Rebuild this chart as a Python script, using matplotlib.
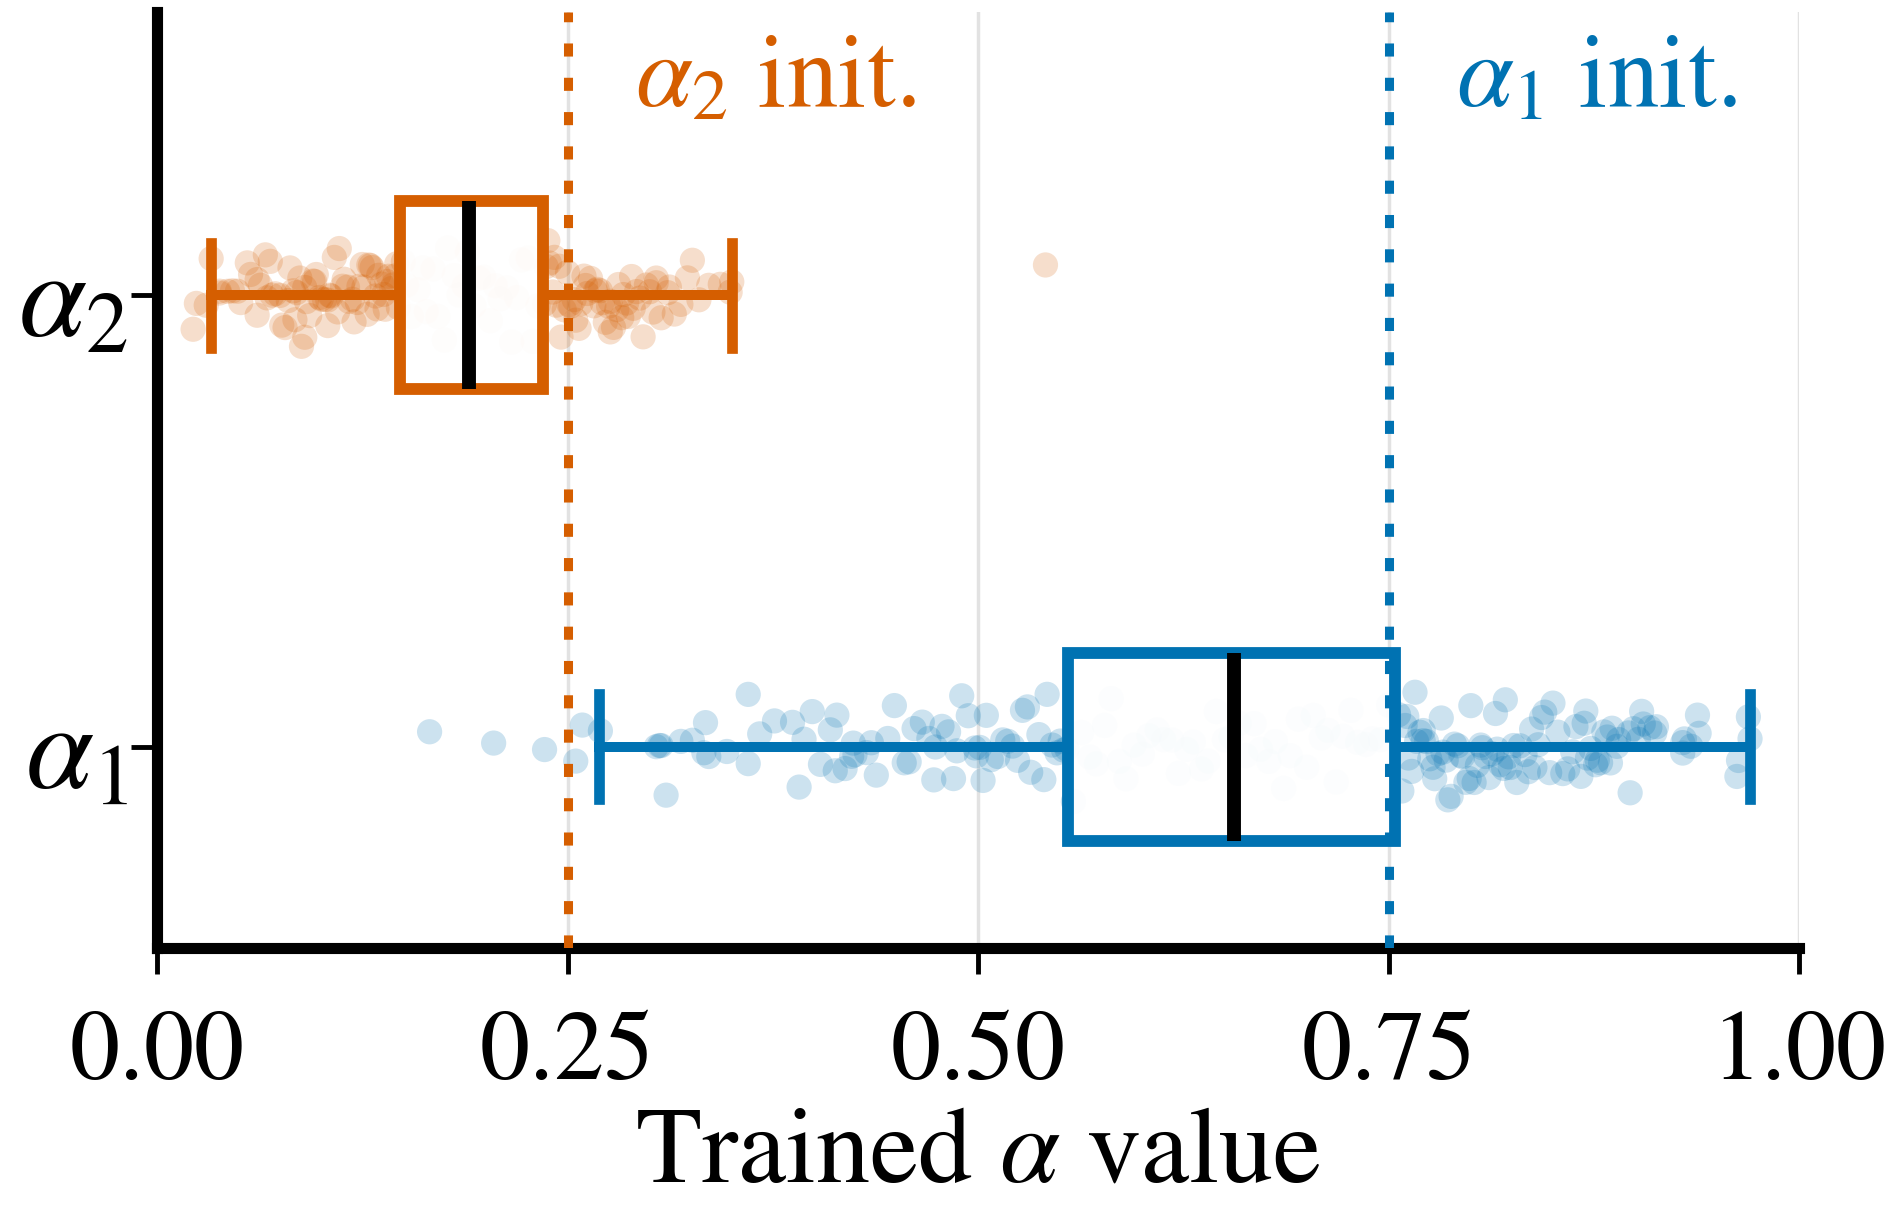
import math
import matplotlib
matplotlib.use('Agg')
import matplotlib.pyplot as plt
from statistics import NormalDist

# trained alpha values (alpha_2 = orange, alpha_1 = blue)
alpha2_vals = [
    0.022, 0.024, 0.030, 0.033, 0.038, 0.038, 0.043, 0.046, 0.049, 0.051,
    0.055, 0.057, 0.061, 0.061, 0.063, 0.066, 0.067, 0.069, 0.070, 0.072,
    0.075, 0.076, 0.078, 0.080, 0.081, 0.083, 0.084, 0.085, 0.087, 0.088,
    0.090, 0.090, 0.091, 0.093, 0.095, 0.096, 0.097, 0.099, 0.100, 0.102,
    0.104, 0.104, 0.105, 0.106, 0.108, 0.110, 0.111, 0.113, 0.114, 0.116,
    0.117, 0.119, 0.120, 0.122, 0.123, 0.125, 0.126, 0.128, 0.129, 0.130,
    0.131, 0.133, 0.134, 0.135, 0.137, 0.138, 0.139, 0.140, 0.141, 0.143,
    0.144, 0.145, 0.146, 0.147,
    0.150, 0.152, 0.155, 0.159, 0.162, 0.164, 0.168, 0.171, 0.175, 0.177,
    0.181, 0.184, 0.187, 0.189, 0.193, 0.196, 0.199, 0.203, 0.206, 0.209,
    0.213, 0.216, 0.219, 0.222, 0.226, 0.229, 0.232,
    0.236, 0.237, 0.238, 0.239, 0.241, 0.242, 0.243, 0.245, 0.246, 0.248,
    0.250, 0.251, 0.252, 0.254, 0.255, 0.257, 0.258, 0.260, 0.261, 0.262,
    0.264, 0.266, 0.267, 0.268, 0.270, 0.271, 0.273, 0.275, 0.276, 0.276,
    0.278, 0.280, 0.281, 0.283, 0.284, 0.286, 0.287, 0.289, 0.290, 0.292,
    0.294, 0.296, 0.298, 0.300, 0.302, 0.304, 0.304, 0.307, 0.311, 0.312,
    0.315, 0.319, 0.323, 0.326, 0.330, 0.336, 0.343, 0.349, 0.350, 0.541,
]
alpha1_vals = [
    0.166, 0.205, 0.236, 0.255, 0.259, 0.270, 0.304, 0.306, 0.307, 0.310,
    0.319, 0.326, 0.333, 0.334, 0.336, 0.347, 0.360, 0.360, 0.367, 0.376,
    0.387, 0.391, 0.394, 0.399, 0.404, 0.410, 0.413, 0.414, 0.419, 0.423,
    0.424, 0.425, 0.432, 0.435, 0.438, 0.445, 0.449, 0.455, 0.458, 0.461,
    0.466, 0.470, 0.473, 0.474, 0.478, 0.482, 0.485, 0.487, 0.490, 0.494,
    0.498, 0.499, 0.501, 0.503, 0.505, 0.508, 0.512, 0.515, 0.518, 0.521,
    0.524, 0.527, 0.530, 0.532, 0.537, 0.540, 0.542, 0.545, 0.548, 0.550,
    0.552, 0.554,
    0.558, 0.563, 0.568, 0.572, 0.577, 0.581, 0.586, 0.590, 0.595, 0.600,
    0.604, 0.609, 0.613, 0.618, 0.622, 0.627, 0.631, 0.636, 0.640, 0.645,
    0.650, 0.654, 0.659, 0.663, 0.668, 0.672, 0.677, 0.681, 0.686, 0.690,
    0.695, 0.700, 0.704, 0.709, 0.713, 0.718, 0.722, 0.727, 0.731, 0.736,
    0.740, 0.745, 0.750,
    0.756, 0.758, 0.760, 0.761, 0.762, 0.764, 0.766, 0.767, 0.769, 0.771,
    0.771, 0.773, 0.775, 0.777, 0.778, 0.780, 0.782, 0.783, 0.785, 0.786,
    0.788, 0.790, 0.792, 0.794, 0.795, 0.797, 0.799, 0.800, 0.802, 0.804,
    0.806, 0.807, 0.809, 0.811, 0.813, 0.815, 0.816, 0.818, 0.820, 0.821,
    0.823, 0.824, 0.826, 0.828, 0.830, 0.833, 0.835, 0.837, 0.839, 0.841,
    0.843, 0.845, 0.848, 0.850, 0.853, 0.856, 0.859, 0.862, 0.864, 0.867,
    0.869, 0.870, 0.871, 0.873, 0.876, 0.877, 0.879, 0.881, 0.883, 0.885,
    0.886, 0.889, 0.890, 0.896, 0.897, 0.899, 0.902, 0.904, 0.905, 0.909,
    0.912, 0.913, 0.929, 0.929, 0.930, 0.934, 0.938, 0.939, 0.962, 0.963,
    0.969, 0.970,
]

# box summary: (q1, median, q3, lower whisker, upper whisker)
alpha1_box = (0.555, 0.656, 0.754, 0.269, 0.970)
alpha2_box = (0.148, 0.190, 0.235, 0.033, 0.350)

categories = [r'$\alpha_1$', r'$\alpha_2$']
init_values = [0.75, 0.25]
init_labels = [r'$\alpha_1$ init.', r'$\alpha_2$ init.']
xticks = [0.0, 0.25, 0.5, 0.75, 1.0]
colors = ['#0072B2', '#D55E00']

plt.rc('font', family=['STIXGeneral', 'Liberation Serif'], size=72)
plt.rc('mathtext', fontset='stix')


def jitter(n, seed, sd=0.052, lim=0.135):
    # deterministic hash-based vertical spread, roughly normal
    nd = NormalDist()
    out = []
    for k in range(n):
        h = math.sin((k + 1) * 12.9898 + seed * 78.233) * 43758.5453
        u = min(max(h - math.floor(h), 0.01), 0.99)
        out.append(max(-lim, min(lim, sd * nd.inv_cdf(u))))
    return out


fig = plt.figure(figsize=(18.98, 12.09), dpi=100)
ax = fig.add_axes([0.0827, 0.216, 0.8653, 0.774])

for pos, vals, col in [(0, alpha1_vals, colors[0]), (1, alpha2_vals, colors[1])]:
    jy = jitter(len(vals), seed=pos + 1)
    ax.scatter(vals, [pos + j for j in jy], s=330, color=col, alpha=0.2,
               edgecolors='none', zorder=2)

stats = []
for name, b in zip(categories, [alpha1_box, alpha2_box]):
    stats.append(dict(label=name, q1=b[0], med=b[1], q3=b[2],
                      whislo=b[3], whishi=b[4], fliers=[]))

bp = ax.bxp(stats, positions=[0, 1], widths=0.417, capwidths=0.233,
            orientation='horizontal', patch_artist=True, showfliers=False,
            medianprops=dict(color='k', linewidth=10, zorder=4),
            boxprops=dict(linewidth=8.5, zorder=3),
            whiskerprops=dict(linewidth=7.2, zorder=3),
            capprops=dict(linewidth=7.7, zorder=3))
for i, col in enumerate(colors):
    bp['boxes'][i].set_facecolor((1, 1, 1, 0.95))
    bp['boxes'][i].set_edgecolor(col)
    for art in bp['whiskers'][2*i:2*i+2] + bp['caps'][2*i:2*i+2]:
        art.set_color(col)

for xv, lab, col in zip(init_values, init_labels, colors):
    ax.axvline(xv, color=col, linewidth=6.5, linestyle=(0, (1.45, 2.35)),
               zorder=5)
    ax.text(xv + 0.041, 1.418, lab, color=col, fontsize=74,
            va='baseline', ha='left')

ax.set_xlim(0, 1)
ax.set_ylim(-0.445, 1.627)
ax.set_xticks(xticks)
ax.set_xticklabels(['%.2f' % t for t in xticks])
ax.set_yticks([0, 1])
ax.set_yticklabels(categories, fontsize=88)
ax.set_xlabel(r'Trained $\alpha$ value', fontsize=78, labelpad=5)

ax.grid(axis='x', color='#e2e2e2', linewidth=2.5, zorder=0)
ax.set_axisbelow(True)
for side in ['top', 'right']:
    ax.spines[side].set_visible(False)
for side in ['left', 'bottom']:
    ax.spines[side].set_linewidth(8)
ax.tick_params(direction='out', length=19, width=3.5)
ax.tick_params(axis='x', pad=26)
ax.tick_params(axis='y', pad=2)

fig.savefig('out.png', dpi=100)
